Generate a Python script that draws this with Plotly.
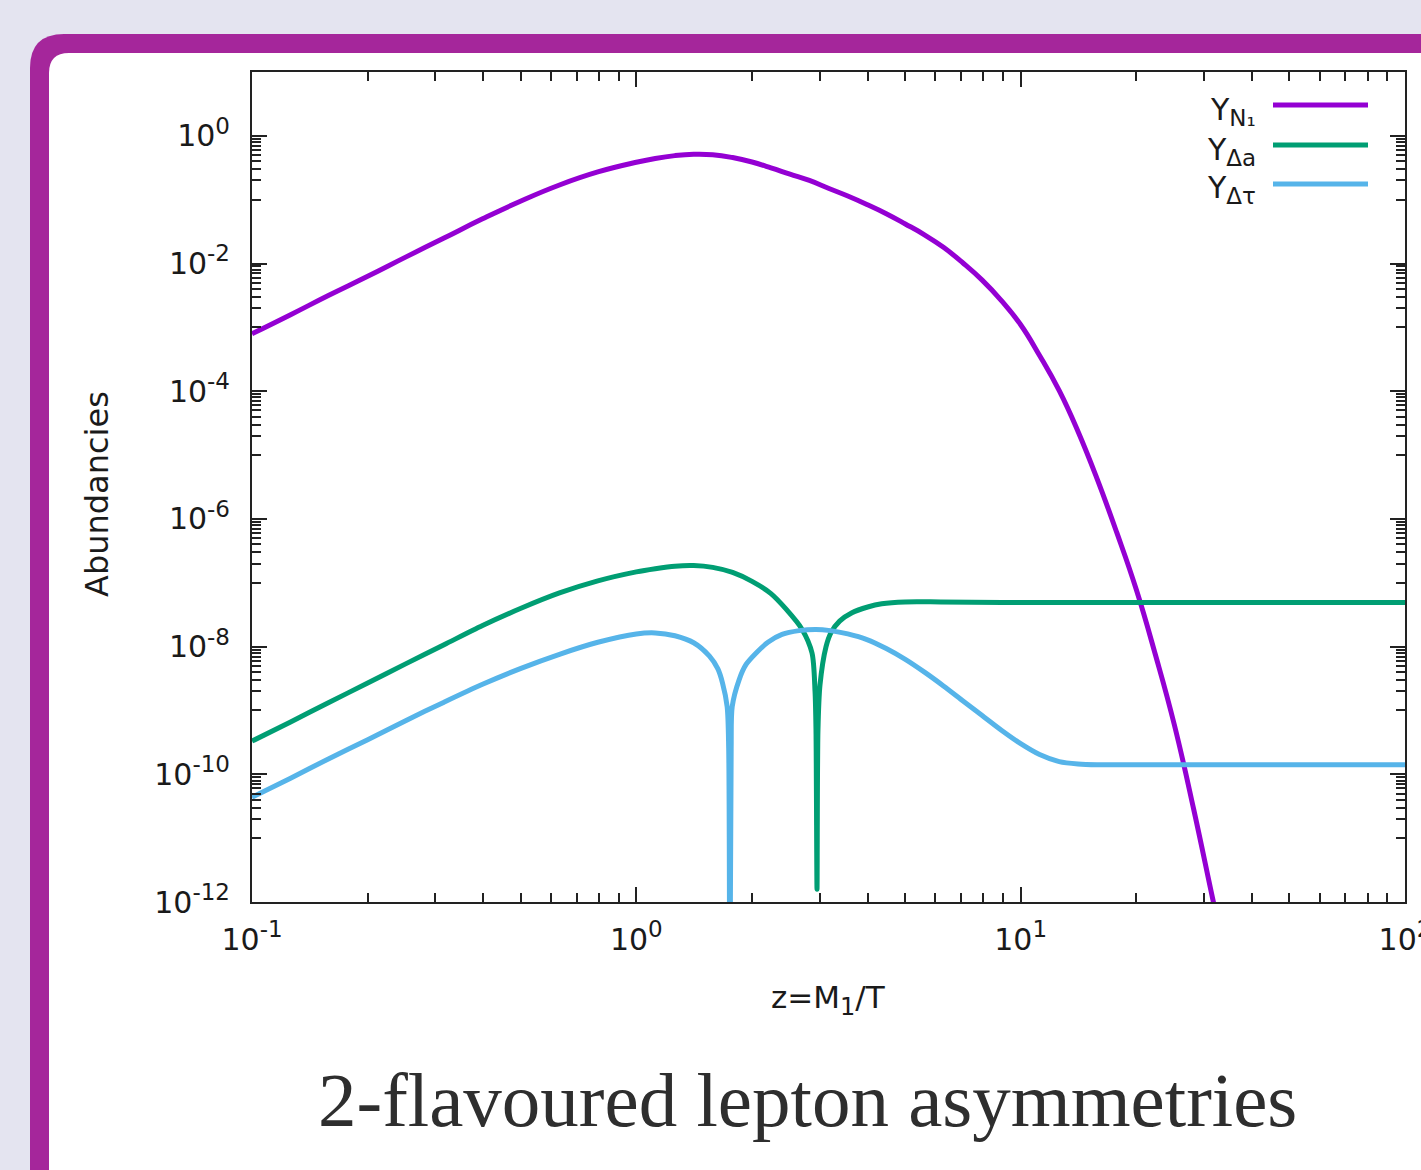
import plotly.graph_objects as go

# ---------------- data ----------------
z_N1 = [0.1, 0.126, 0.158, 0.2, 0.251, 0.316, 0.398, 0.501, 0.631, 0.794, 1.0, 1.12, 1.26,
        1.41, 1.58, 1.78, 2.0, 2.24, 2.51, 2.82, 3.16, 3.55, 3.98, 4.47, 5.01, 5.62, 6.31,
        7.08, 7.94, 8.91, 10.0, 11.2, 12.6, 14.1, 15.8, 17.8, 20.0, 22.4, 25.1, 28.2, 31.6,
        33.1]
Y_N1 = [7.94e-4, 1.58e-3, 3.16e-3, 6.31e-3, 1.26e-2, 2.51e-2, 5.01e-2, 9.55e-2, 1.70e-1,
        2.72e-1, 3.85e-1, 4.42e-1, 4.90e-1, 5.15e-1, 5.07e-1, 4.57e-1, 3.89e-1, 3.16e-1,
        2.51e-1, 2.0e-1, 1.51e-1, 1.14e-1, 8.41e-2, 6.03e-2, 4.17e-2, 2.82e-2, 1.78e-2,
        1.02e-2, 5.50e-3, 2.63e-3, 1.10e-3, 3.63e-4, 1.02e-4, 2.34e-5, 4.27e-6, 6.03e-7,
        7.76e-8, 7.59e-9, 6.03e-10, 2.82e-11, 1.12e-12, 3.16e-13]

z_Da = [0.1, 0.126, 0.158, 0.2, 0.251, 0.316, 0.398, 0.501, 0.631, 0.794, 1.0, 1.12, 1.26,
        1.41, 1.58, 1.78, 2.0, 2.24, 2.45, 2.70, 2.865, 2.917, 2.934, 2.952, 2.969, 3.005,
        3.116, 3.21, 3.38, 3.64, 4.0, 4.35, 5.0, 6.2, 10.0, 100.0]
Y_Da = [3.31e-10, 6.61e-10, 1.32e-9, 2.69e-9, 5.37e-9, 1.07e-8, 2.14e-8, 3.98e-8, 6.92e-8,
        1.07e-7, 1.48e-7, 1.66e-7, 1.82e-7, 1.86e-7, 1.74e-7, 1.45e-7, 1.05e-7, 6.76e-8,
        3.89e-8, 1.86e-8, 7.94e-9, 2.0e-9, 5.0e-10, 1.58e-12, 5.0e-10, 2.5e-9, 1.0e-8,
        1.66e-8, 2.51e-8, 3.39e-8, 4.17e-8, 4.68e-8, 5.01e-8, 5.01e-8, 4.9e-8, 4.9e-8]

z_Dt = [0.1, 0.126, 0.158, 0.2, 0.251, 0.316, 0.398, 0.501, 0.631, 0.794, 1.0, 1.12, 1.26,
        1.41, 1.55, 1.63, 1.676, 1.723, 1.739, 1.751, 1.765, 1.776, 1.851, 1.93, 2.05, 2.2,
        2.394, 2.65, 2.934, 3.2, 3.55, 3.98, 4.47, 5.01, 5.62, 6.31, 7.08, 7.94, 8.91, 10.0,
        11.2, 12.6, 14.1, 15.8, 100.0]
Y_Dt = [4.37e-11, 8.71e-11, 1.74e-10, 3.47e-10, 6.92e-10, 1.35e-9, 2.57e-9, 4.57e-9,
        7.59e-9, 1.17e-8, 1.58e-8, 1.64e-8, 1.48e-8, 1.15e-8, 7.08e-9, 4.47e-9, 2.69e-9,
        1.15e-9, 2.51e-10, 1.0e-14, 2.51e-10, 1.15e-9, 3.02e-9, 5.25e-9, 7.94e-9, 1.17e-8,
        1.55e-8, 1.78e-8, 1.86e-8, 1.78e-8, 1.58e-8, 1.29e-8, 9.33e-9, 6.31e-9, 3.98e-9,
        2.40e-9, 1.41e-9, 8.32e-10, 4.90e-10, 3.02e-10, 2.04e-10, 1.58e-10, 1.45e-10,
        1.41e-10, 1.41e-10]

series_names = ["Y<sub><span style='font-size:23px'>N₁</span></sub>",
                "Y<sub><span style='font-size:23px'>Δa</span></sub>",
                "Y<sub><span style='font-size:23px'>Δτ</span></sub>"]
series_colors = ["#9400d3", "#009e73", "#56b4e9"]


def sup(base, exp):
    return f"{base}<sup><span style='font-size:23px'>{exp}</span></sup>"


x_tickvals = [0.1, 1, 10, 100]
x_ticktext = [sup("10", "-1"), sup("10", "0"), sup("10", "1"), sup("10", "2")]
y_tickvals = [1e0, 1e-2, 1e-4, 1e-6, 1e-8, 1e-10, 1e-12]
y_ticktext = [sup("10", e) for e in ["0", "-2", "-4", "-6", "-8", "-10", "-12"]]

x_minor = [m * 10.0 ** d for d in (-1, 0, 1) for m in range(2, 10)]
y_minor = [k * 10.0 ** e for e in (1, -1, -3, -5, -7, -9, -11) for k in range(1, 10)]

title_text = "2-flavoured lepton asymmetries"
xlabel = "z=M<sub><span style='font-size:24px'>1</span></sub>/T"
ylabel = "Abundancies"

# ---------------- layout geometry ----------------
W, H = 1421, 1170
L, R, T, B = 252, 1405, 72, 902
PW, PH = R - L, B - T


def px(x):
    return (x - L) / PW


def py(y):
    return (B - y) / PH


def rounded_path(l, t, r, b, rad):
    return (f"M {px(l)},{py(t + rad)} Q {px(l)},{py(t)} {px(l + rad)},{py(t)} "
            f"L {px(r)},{py(t)} L {px(r)},{py(b)} L {px(l)},{py(b)} Z")


fig = go.Figure()
for zs, ys, name, col, sm in zip([z_N1, z_Da, z_Dt], [Y_N1, Y_Da, Y_Dt], series_names,
                                 series_colors, [1.3, 0.8, 0.8]):
    fig.add_trace(go.Scatter(x=zs, y=ys, mode="lines", name=name, showlegend=False,
                             line=dict(color=col, width=5, shape="spline", smoothing=sm)))

shapes = [
    dict(type="path", xref="paper", yref="paper", path=rounded_path(30, 34, 1480, 1230, 34),
         fillcolor="#a5269b", line=dict(width=0), layer="below"),
    dict(type="path", xref="paper", yref="paper", path=rounded_path(49, 53, 1480, 1230, 20),
         fillcolor="#ffffff", line=dict(width=0), layer="below"),
]

annotations = []
legend_rows = [105, 145, 184]
for name, col, yy in zip(series_names, series_colors, legend_rows):
    shapes.append(dict(type="line", xref="paper", yref="paper", x0=px(1273), x1=px(1368),
                       y0=py(yy), y1=py(yy), line=dict(color=col, width=5)))
    annotations.append(dict(text=name, xref="paper", yref="paper", x=px(1258), y=py(yy + 6),
                            xanchor="right", yanchor="middle", showarrow=False,
                            font=dict(family="DejaVu Sans", size=30, color="#1a1a1a")))

annotations += [
    dict(text=xlabel, xref="paper", yref="paper", x=px(828), y=py(1000), xanchor="center",
         yanchor="middle", showarrow=False,
         font=dict(family="DejaVu Sans", size=31, color="#1a1a1a")),
    dict(text=ylabel, xref="paper", yref="paper", x=px(97), y=py(494), xanchor="center",
         yanchor="middle", showarrow=False, textangle=-90,
         font=dict(family="DejaVu Sans", size=32, color="#1a1a1a")),
    dict(text=title_text, xref="paper", yref="paper", x=px(807), y=py(1100), xanchor="center",
         yanchor="middle", showarrow=False,
         font=dict(family="Liberation Serif", size=77, color="#2e2e2e")),
]

axis_common = dict(showline=True, linecolor="#222222", linewidth=2, mirror="allticks",
                   ticks="inside", ticklen=15, tickwidth=2, tickcolor="#222222",
                   showgrid=False, zeroline=False, tickmode="array",
                   ticklabeloverflow="allow", automargin=False,
                   tickfont=dict(family="DejaVu Sans", size=30, color="#1a1a1a"))

fig.update_xaxes(type="log", range=[-1, 2], tickvals=x_tickvals, ticktext=x_ticktext,
                 ticklabelstandoff=10,
                 minor=dict(tickmode="array", tickvals=x_minor, ticks="inside", ticklen=9,
                            tickwidth=1.5, tickcolor="#222222", showgrid=False),
                 **axis_common)
fig.update_yaxes(type="log", range=[-12, 1], tickvals=y_tickvals, ticktext=y_ticktext,
                 ticklabelstandoff=14,
                 minor=dict(tickmode="array", tickvals=y_minor, ticks="inside", ticklen=9,
                            tickwidth=1.5, tickcolor="#222222", showgrid=False),
                 **axis_common)

fig.update_layout(width=W, height=H, margin=dict(l=L, r=W - R, t=T, b=H - B),
                  paper_bgcolor="#e4e4f0", plot_bgcolor="#ffffff",
                  shapes=shapes, annotations=annotations, showlegend=False)

fig.write_html("out.html", config={"displayModeBar": False},
               post_script="document.body.style.margin='0';"
                           "document.body.style.overflow='hidden';")
